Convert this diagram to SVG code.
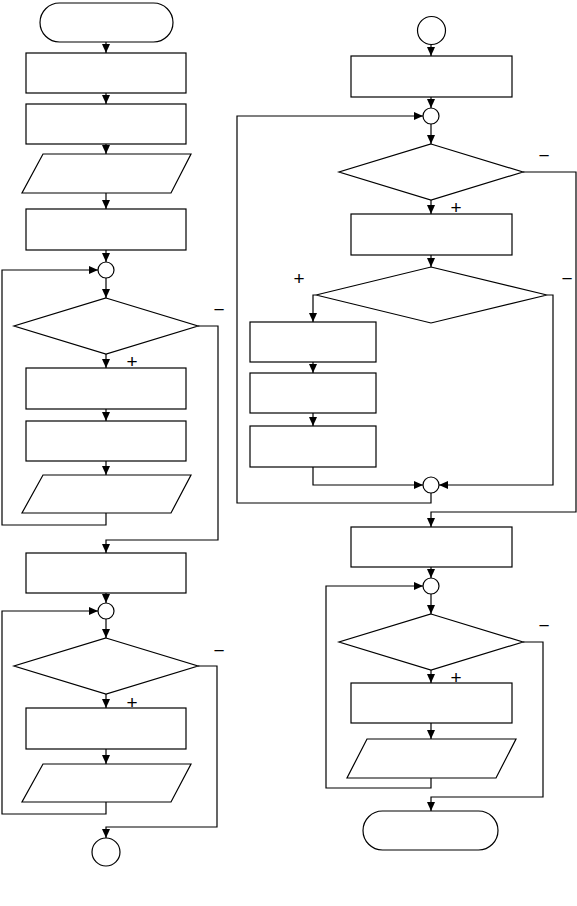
<svg xmlns="http://www.w3.org/2000/svg" width="577" height="906" viewBox="0 0 577 906">
<style>
.s{fill:#fff;stroke:#000;stroke-width:1.2}
.c{fill:none;stroke:#000;stroke-width:1.2}
.l{font-family:"Liberation Sans",Arial,sans-serif;font-size:19px;fill:#000;text-anchor:middle}
</style>
<defs>
<marker id="a" markerUnits="userSpaceOnUse" markerWidth="9" markerHeight="8" refX="9" refY="4" orient="auto">
<path d="M0,0 L9,4 L0,8 z" fill="#000"/>
</marker>
</defs>
<rect width="577" height="906" fill="#fff"/>
<g id="connectors" class="c" marker-end="url(#a)">
<path d="M106,42V53"/>
<path d="M106,93V104"/>
<path d="M106,144V154"/>
<path d="M106,193V209"/>
<path d="M106,250V262"/>
<path d="M106,278V298"/>
<path d="M106,513V525H2V270H98"/>
<path d="M106,354V368"/>
<path d="M106,409V421"/>
<path d="M106,461V475"/>
<path d="M198,326H218V540H106V553"/>
<path d="M106,593V603"/>
<path d="M106,619V638"/>
<path d="M106,802V814H2V611H98"/>
<path d="M106,694V708"/>
<path d="M106,749V764"/>
<path d="M198,666H217V827H106V838"/>
<path d="M431,45V56"/>
<path d="M431,97V108"/>
<path d="M431,124V144"/>
<path d="M431,200V214"/>
<path d="M431,255V267"/>
<path d="M523,172H576V512H431V527"/>
<path d="M316,295H313V322"/>
<path d="M547,295H553V485H439"/>
<path d="M313,362V373"/>
<path d="M313,413V426"/>
<path d="M313,467V485H423"/>
<path d="M431,493V503H237V116H423"/>
<path d="M431,567V578"/>
<path d="M431,594V614"/>
<path d="M431,670V683"/>
<path d="M431,723V739"/>
<path d="M431,778V788H326V586H423"/>
<path d="M523,642H543V797H431V811"/>
</g>
<g id="start"><rect class="s" x="40" y="3" width="133" height="39" rx="19.5"/></g>
<g id="p1"><rect class="s" x="26" y="53" width="160" height="40"/></g>
<g id="p2"><rect class="s" x="26" y="104" width="160" height="40"/></g>
<g id="io1"><polygon class="s" points="43,154 191,154 171,193 22,193"/></g>
<g id="p3"><rect class="s" x="26" y="209" width="160" height="41"/></g>
<g id="j1"><circle class="s" cx="106" cy="270" r="8"/></g>
<g id="d1"><polygon class="s" points="106,298 198,326 106,354 14,326"/></g>
<g id="p4"><rect class="s" x="26" y="368" width="160" height="41"/></g>
<g id="p5"><rect class="s" x="26" y="421" width="160" height="40"/></g>
<g id="io2"><polygon class="s" points="43,475 191,475 171,513 22,513"/></g>
<g id="p6"><rect class="s" x="26" y="553" width="160" height="40"/></g>
<g id="j2"><circle class="s" cx="106" cy="611" r="8"/></g>
<g id="d2"><polygon class="s" points="106,638 198,666 106,694 14,666"/></g>
<g id="p7"><rect class="s" x="26" y="708" width="160" height="41"/></g>
<g id="io3"><polygon class="s" points="43,764 191,764 171,802 22,802"/></g>
<g id="c1"><circle class="s" cx="106" cy="852" r="14"/></g>
<g id="c2"><circle class="s" cx="431.5" cy="30.5" r="14"/></g>
<g id="r1"><rect class="s" x="351" y="56" width="161" height="41"/></g>
<g id="j3"><circle class="s" cx="431" cy="116" r="8"/></g>
<g id="d3"><polygon class="s" points="431,144 523,172 431,200 339,172"/></g>
<g id="r2"><rect class="s" x="351" y="214" width="161" height="41"/></g>
<g id="d4"><polygon class="s" points="431,267 547,295 431,323 316,295"/></g>
<g id="r3"><rect class="s" x="250" y="322" width="126" height="40"/></g>
<g id="r4"><rect class="s" x="250" y="373" width="126" height="40"/></g>
<g id="r5"><rect class="s" x="250" y="426" width="126" height="41"/></g>
<g id="j4"><circle class="s" cx="431" cy="485" r="8"/></g>
<g id="r6"><rect class="s" x="351" y="527" width="161" height="40"/></g>
<g id="j5"><circle class="s" cx="431" cy="586" r="8"/></g>
<g id="d5"><polygon class="s" points="431,614 523,642 431,670 339,642"/></g>
<g id="r7"><rect class="s" x="351" y="683" width="161" height="40"/></g>
<g id="io4"><polygon class="s" points="367,739 516,739 496,778 347,778"/></g>
<g id="end"><rect class="s" x="363" y="811" width="135" height="39" rx="19.5"/></g>
<g id="labels">
<text class="l" x="219" y="316">−</text>
<text class="l" x="132" y="368">+</text>
<text class="l" x="219" y="657">−</text>
<text class="l" x="132" y="709">+</text>
<text class="l" x="544" y="162">−</text>
<text class="l" x="456" y="214">+</text>
<text class="l" x="299" y="285">+</text>
<text class="l" x="567" y="285">−</text>
<text class="l" x="544" y="632">−</text>
<text class="l" x="456" y="684">+</text>
</g>
</svg>
